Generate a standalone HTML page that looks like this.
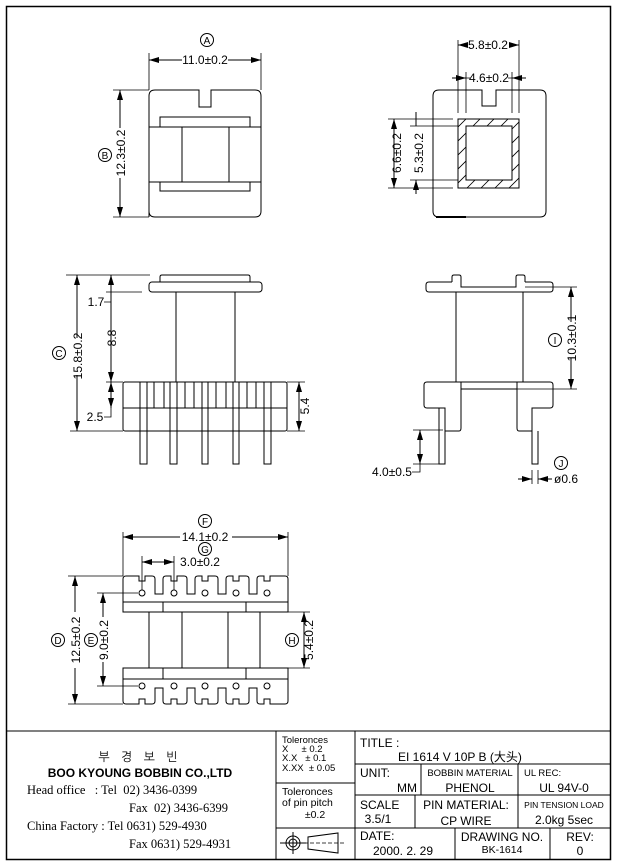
<!DOCTYPE html>
<html><head><meta charset="utf-8"><style>
html,body{margin:0;padding:0;background:#fff}
svg{display:block}
text{font-family:"Liberation Sans","Noto Sans CJK KR",sans-serif;fill:#000}
</style></head><body>
<svg width="617" height="866" viewBox="0 0 617 866" xmlns="http://www.w3.org/2000/svg">
<defs>
<marker id="a" viewBox="0 0 10 6" refX="10" refY="3" markerWidth="10" markerHeight="6" markerUnits="userSpaceOnUse" orient="auto-start-reverse"><path d="M0,0 L10,3 L0,6 Z" fill="#000"/></marker>
<clipPath id="hc"><path d="M458,119 H519 V188 H458 Z M466,126 V180 H512 V126 Z" clip-rule="evenodd"/></clipPath>
</defs>
<g fill="none" stroke="#000" stroke-width="1">
<rect x="6.5" y="6.5" width="604" height="853" stroke-width="1.5"/>

<!-- TOP LEFT VIEW -->
<path d="M149,217 V96 Q149,90 155,90 H199 V107 H211 V90 H255 Q261,90 261,96 V211 Q261,217 255,217 H155 Q149,217 149,211"/>
<path d="M160,127 V117 H250 V127 M149,127 H261 M182,127 V182 M229,127 V182 M149,182 H261 M160,182 V191 H250 V182"/>
<path d="M149,90 V53 M261,90 V53" stroke-width="0.8"/>
<path d="M149,60 H182 M228,60 H261" marker-start="url(#a)" marker-end="url(#a)"/>
<path d="M113,90 H149 M113,217 H149" stroke-width="0.8"/>
<path d="M120,90 V128 M120,178 V217" marker-start="url(#a)" marker-end="url(#a)"/>
<circle cx="207" cy="40" r="6.5"/><circle cx="105" cy="155" r="6.5"/>

<!-- TOP RIGHT VIEW -->
<path d="M433,211 V96 Q433,90 439,90 H482 V106 H496 V90 H540 Q546,90 546,96 V211 Q546,217 540,217 H439 Q433,217 433,211"/>
<path d="M436,217 H466" stroke-width="2"/>
<rect x="458" y="119" width="61" height="69"/>
<rect x="466" y="126" width="46" height="54"/>
<g clip-path="url(#hc)" stroke-width="0.8">
<path d="M455,130 L470,115 M455,144 L484,115 M455,158 L498,115 M455,172 L512,115 M455,186 L526,115 M455,200 L526,129 M455,214 L526,143 M469,214 L526,157 M483,214 L526,171 M497,214 L526,185"/>
</g>
<path d="M458,113 V40 M519,113 V40 M466,113 V72 M512,113 V72" stroke-width="0.8"/>
<path d="M458,45 H466 M510,45 H519" marker-start="url(#a)" marker-end="url(#a)"/>
<path d="M452,78 H466" marker-end="url(#a)"/>
<path d="M526,78 H512" marker-end="url(#a)"/>
<path d="M466,78 H470 M508,78 H512" stroke-width="0.8"/>
<path d="M388,119 H453 M388,188 H453 M410,126 H458 M410,180 H458" stroke-width="0.8"/>
<path d="M394,119 V188" marker-start="url(#a)" marker-end="url(#a)"/>
<path d="M416,112 V126 M416,194 V180" marker-end="url(#a)"/>

<!-- SIDE LEFT VIEW -->
<path d="M160,282 V277 Q160,275 162,275 H248 Q250,275 250,277 V282"/>
<rect x="149" y="282" width="113" height="10" rx="3"/>
<path d="M176,292 V382 M235,292 V382"/>
<rect x="123" y="382" width="164" height="49" rx="2"/>
<path d="M123,408 H287"/>
<path d="M140,382 V408 M147,382 V408 M154,382 V408 M164,382 V408 M170,382 V408 M177,382 V408 M185,382 V408 M194,382 V408 M202,382 V408 M208,382 V408 M216,382 V408 M226,382 V408 M233,382 V408 M239,382 V408 M247,382 V408 M256,382 V408 M264,382 V408 M271,382 V408"/>
<path d="M140,408 V464 H147 V408 M170,408 V464 H177 V408 M202,408 V464 H208 V408 M233,408 V464 H239 V408 M264,408 V464 H271 V408"/>
<path d="M66,275 H150 M106,292 H142 M70,431 H123 M106,382 H123" stroke-width="0.8"/>
<path d="M77,275 V338 M77,375 V431" marker-start="url(#a)" marker-end="url(#a)"/>
<path d="M111,275 V292 M111,292 V382" marker-start="url(#a)" marker-end="url(#a)"/>
<path d="M111,382 V408" marker-start="url(#a)" marker-end="url(#a)"/>
<path d="M111,292 V302 H104 M111,408 V417 H104" stroke-width="0.8"/>
<path d="M287,382 H305 M287,431 H305" stroke-width="0.8"/>
<path d="M299,382 V431" marker-start="url(#a)" marker-end="url(#a)"/>
<circle cx="59" cy="353" r="6.5"/>

<!-- SIDE RIGHT VIEW -->
<path d="M452,282 V277 Q452,275 454,275 H459 Q461,275 461,277 V287 H516 V277 Q516,275 518,275 H523 Q525,275 525,277 V282"/>
<path d="M452,282 H429 Q426,282 426,285 V289 Q426,292 429,292 H550 Q553,292 553,289 V285 Q553,282 550,282 H525"/>
<path d="M456,292 V382 M523,292 V382"/>
<path d="M461,382 H427 Q424,382 424,385 V405 Q424,408 427,408 H445 V431 M445,408 V431 H459 Q461,431 461,428 V382"/>
<path d="M461,389 H517 M461,382 H517"/>
<path d="M517,382 V428 Q517,431 519,431 H532 V408 H550 Q553,408 553,405 V385 Q553,382 550,382 H517"/>
<path d="M439,408 V464 H445 V408 M532,431 V464 H538 V431"/>
<path d="M525,287 H577 M517,389 H577" stroke-width="0.8"/>
<path d="M571,287 V322 M571,358 V389" marker-start="url(#a)" marker-end="url(#a)"/>
<circle cx="555" cy="340" r="6.5"/>
<path d="M413,430 H443 M413,464 H439" stroke-width="0.8"/>
<path d="M420,430 V464" marker-start="url(#a)" marker-end="url(#a)"/>
<path d="M420,464 V472 H412" stroke-width="0.8"/>
<path d="M532,470 V484 M538,470 V484" stroke-width="0.8"/>
<path d="M518,479 H532" marker-end="url(#a)"/>
<path d="M552,479 H538" marker-end="url(#a)"/>
<circle cx="561" cy="463" r="6.5"/>

<!-- BOTTOM VIEW -->
<path d="M123,612 V579 Q123,576 126,576 H139 V581 H145 V576 H152 Q155,576 155,579 V594 H163 V579 Q163,576 166,576 H171 V581 H177 V576 H184 Q187,576 187,579 V594 H195 V579 Q195,576 198,576 H202 V581 H208 V576 H215 Q218,576 218,579 V594 H226 V579 Q226,576 229,576 H233 V581 H239 V576 H246 Q249,576 249,579 V594 H257 V579 Q257,576 260,576 H264 V581 H270 V576 H285 Q288,576 288,579 V612 Z"/>
<path d="M123,602 H288 M163,602 V612 M246,602 V612"/>
<path d="M123,668 V701 Q123,704 126,704 H139 V699 H145 V704 H152 Q155,704 155,701 V688 H163 V701 Q163,704 166,704 H171 V699 H177 V704 H184 Q187,704 187,701 V688 H195 V701 Q195,704 198,704 H202 V699 H208 V704 H215 Q218,704 218,701 V688 H226 V701 Q226,704 229,704 H233 V699 H239 V704 H246 Q249,704 249,701 V688 H257 V701 Q257,704 260,704 H264 V699 H270 V704 H285 Q288,704 288,701 V668 Z"/>
<path d="M123,679 H288 M163,668 V679 M246,668 V679"/>
<path d="M149,612 V668 M182,612 V668 M228,612 V668 M260,612 V668"/>
<circle cx="142" cy="593" r="3"/><circle cx="174" cy="593" r="3"/><circle cx="205" cy="593" r="3"/><circle cx="236" cy="593" r="3"/><circle cx="267" cy="593" r="3"/>
<circle cx="142" cy="686" r="3"/><circle cx="174" cy="686" r="3"/><circle cx="205" cy="686" r="3"/><circle cx="236" cy="686" r="3"/><circle cx="267" cy="686" r="3"/>
<path d="M123,576 V532 M288,576 V532 M142,590 V556 M174,590 V556" stroke-width="0.8"/>
<path d="M123,537 H180 M232,537 H288" marker-start="url(#a)" marker-end="url(#a)"/>
<path d="M142,562 H174" marker-start="url(#a)" marker-end="url(#a)"/>
<path d="M68,576 H123 M68,704 H123 M97,593 H138 M97,686 H138" stroke-width="0.8"/>
<path d="M75,576 V612 M75,668 V704" marker-start="url(#a)" marker-end="url(#a)"/>
<path d="M103,593 V617 M103,662 V686" marker-start="url(#a)" marker-end="url(#a)"/>
<path d="M288,612 H310 M288,668 H310" stroke-width="0.8"/>
<path d="M304,612 V668" marker-start="url(#a)" marker-end="url(#a)"/>
<circle cx="205" cy="521" r="6.5"/><circle cx="205" cy="549" r="6.5"/>
<circle cx="58" cy="640" r="6.5"/><circle cx="91" cy="640" r="6.5"/><circle cx="292" cy="640" r="6.5"/>

<!-- TITLE BLOCK -->
<path d="M6,731 H611 M276,731 V859 M355,731 V859"/>
<path d="M276,783 H355 M276,828 H611"/>
<path d="M355,764 H611 M355,795 H611"/>
<path d="M421,764 V795 M518,764 V828 M415,795 V828 M455,828 V859 M550,828 V859"/>
<circle cx="293" cy="843" r="7"/><circle cx="293" cy="843" r="4"/>
<path d="M280,843 H306 M293,832 V854"/>
<path d="M308,837 V849 L338,853 V833 Z"/>
<path d="M304,843 H344" stroke-dasharray="4,2" stroke-width="0.8"/>
</g>

<g font-size="12">
<text x="207" y="44" text-anchor="middle" font-size="10">A</text>
<text x="105" y="159" text-anchor="middle" font-size="10">B</text>
<text x="205" y="64" text-anchor="middle">11.0±0.2</text>
<text transform="translate(125,153) rotate(-90)" text-anchor="middle">12.3±0.2</text>
<text x="488" y="49" text-anchor="middle">5.8±0.2</text>
<text x="489" y="82" text-anchor="middle">4.6±0.2</text>
<text transform="translate(401,153) rotate(-90)" text-anchor="middle">6.6±0.2</text>
<text transform="translate(423,153) rotate(-90)" text-anchor="middle">5.3±0.2</text>

<text x="59" y="357" text-anchor="middle" font-size="10">C</text>
<text transform="translate(82,356) rotate(-90)" text-anchor="middle">15.8±0.2</text>
<text x="96" y="306" text-anchor="middle">1.7</text>
<text transform="translate(116,338) rotate(-90)" text-anchor="middle">8.8</text>
<text x="95" y="421" text-anchor="middle">2.5</text>
<text transform="translate(309,406) rotate(-90)" text-anchor="middle">5.4</text>

<text x="555" y="344" text-anchor="middle" font-size="10">I</text>
<text transform="translate(576,338) rotate(-90)" text-anchor="middle">10.3±0.1</text>
<text x="392" y="476" text-anchor="middle">4.0±0.5</text>
<text x="561" y="467" text-anchor="middle" font-size="10">J</text>
<text x="566" y="483" text-anchor="middle">ø0.6</text>

<text x="205" y="525" text-anchor="middle" font-size="10">F</text>
<text x="205" y="541" text-anchor="middle">14.1±0.2</text>
<text x="205" y="553" text-anchor="middle" font-size="10">G</text>
<text x="200" y="566" text-anchor="middle">3.0±0.2</text>
<text x="58" y="644" text-anchor="middle" font-size="10">D</text>
<text transform="translate(80,640) rotate(-90)" text-anchor="middle">12.5±0.2</text>
<text x="91" y="644" text-anchor="middle" font-size="10">E</text>
<text transform="translate(108,640) rotate(-90)" text-anchor="middle">9.0±0.2</text>
<text x="292" y="644" text-anchor="middle" font-size="10">H</text>
<text transform="translate(313,640) rotate(-90)" text-anchor="middle">5.4±0.2</text>
</g>

<text x="140" y="761" text-anchor="middle" font-size="12" letter-spacing="4" style="font-family:'NanumGothic','Noto Sans CJK KR',sans-serif">부 경 보 빈</text>
<text x="140" y="777" text-anchor="middle" font-size="12" font-weight="bold" style="font-family:'Liberation Sans Narrow','Liberation Sans',sans-serif">BOO KYOUNG BOBBIN CO.,LTD</text>
<g font-size="12.5">
<text x="27" y="794" style="font-family:'Liberation Serif',serif">Head office&#160;&#160;&#160;: Tel&#160;&#160;02) 3436-0399</text>
<text x="129" y="812" style="font-family:'Liberation Serif',serif">Fax&#160;&#160;02) 3436-6399</text>
<text x="27" y="830" style="font-family:'Liberation Serif',serif">China Factory : Tel 0631) 529-4930</text>
<text x="129" y="848" style="font-family:'Liberation Serif',serif">Fax 0631) 529-4931</text>
</g>

<g font-size="9.5">
<text x="282" y="743">Toleronces</text>
<text x="282" y="752">X&#160;&#160;&#160;&#160;&#160;± 0.2</text>
<text x="282" y="761">X.X&#160;&#160;&#160;± 0.1</text>
<text x="282" y="771">X.XX&#160;&#160;± 0.05</text>
<text x="282" y="795" font-size="10.5">Toleronces</text>
<text x="282" y="806" font-size="10.5">of pin pitch</text>
<text x="315" y="818" text-anchor="middle" font-size="10.5">±0.2</text>
</g>
<g font-size="12">
<text x="360" y="747">TITLE :</text>
<text x="398" y="761" style="font-family:'Liberation Sans','Noto Sans CJK SC',sans-serif">EI 1614 V 10P B (大头)</text>
<text x="360" y="777">UNIT:</text>
<text x="417" y="792" text-anchor="end">MM</text>
<text x="470" y="776" text-anchor="middle" font-size="9.5">BOBBIN MATERIAL</text>
<text x="470" y="792" text-anchor="middle">PHENOL</text>
<text x="524" y="776" font-size="9.5">UL REC:</text>
<text x="564" y="792" text-anchor="middle">UL 94V-0</text>
<text x="360" y="809">SCALE</text>
<text x="378" y="823" text-anchor="middle">3.5/1</text>
<text x="466" y="809" text-anchor="middle">PIN MATERIAL:</text>
<text x="466" y="825" text-anchor="middle">CP WIRE</text>
<text x="564" y="808" text-anchor="middle" font-size="8.5">PIN TENSION LOAD</text>
<text x="564" y="824" text-anchor="middle">2.0kg 5sec</text>
<text x="360" y="840">DATE:</text>
<text x="403" y="855" text-anchor="middle">2000. 2. 29</text>
<text x="502" y="841" text-anchor="middle">DRAWING NO.</text>
<text x="502" y="853" text-anchor="middle" font-size="10.5">BK-1614</text>
<text x="580" y="841" text-anchor="middle">REV:</text>
<text x="580" y="855" text-anchor="middle">0</text>
</g>
</svg>
</body></html>
